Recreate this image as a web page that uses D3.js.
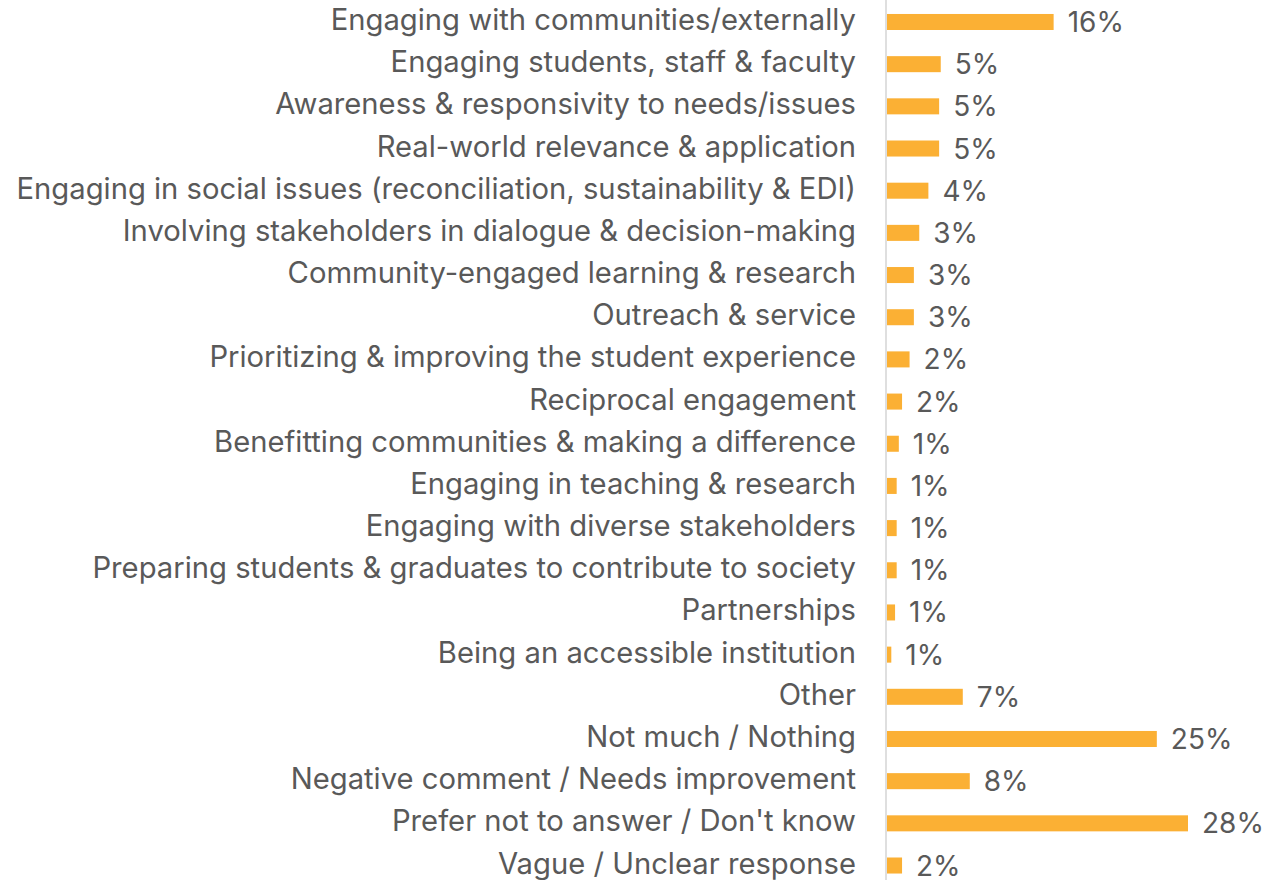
<!DOCTYPE html>
<html>
<head>
<meta charset="utf-8">
<script src="https://cdn.jsdelivr.net/npm/d3@7"></script>
<style>
  html, body { margin: 0; padding: 0; background: #ffffff; }
  svg { display: block; }
</style>
</head>
<body>
<svg id="chart" width="1268" height="880"></svg>
<script>
const categories = [
  "Engaging with communities/externally",
  "Engaging students, staff & faculty",
  "Awareness & responsivity to needs/issues",
  "Real-world relevance & application",
  "Engaging in social issues (reconciliation, sustainability & EDI)",
  "Involving stakeholders in dialogue & decision-making",
  "Community-engaged learning & research",
  "Outreach & service",
  "Prioritizing & improving the student experience",
  "Reciprocal engagement",
  "Benefitting communities & making a difference",
  "Engaging in teaching & research",
  "Engaging with diverse stakeholders",
  "Preparing students & graduates to contribute to society",
  "Partnerships",
  "Being an accessible institution",
  "Other",
  "Not much / Nothing",
  "Negative comment / Needs improvement",
  "Prefer not to answer / Don't know",
  "Vague / Unclear response"
];
const values = [15.5, 5.0, 4.85, 4.85, 3.85, 3.0, 2.5, 2.5, 2.1, 1.4, 1.1, 0.9, 0.9, 0.9, 0.75, 0.4, 7.05, 25.1, 7.7, 28.0, 1.4];
const valueLabels = ["16%", "5%", "5%", "5%", "4%", "3%", "3%", "3%", "2%", "2%", "1%", "1%", "1%", "1%", "1%", "1%", "7%", "25%", "8%", "28%", "2%"];

const data = categories.map((c, i) => ({ cat: c, value: values[i], label: valueLabels[i] }));

const svg = d3.select("#chart");
const textColor = "#595959";
const barColor = "#FBB034";
const fontFamily = "Inter, Lato, sans-serif";

const axisX = 886;
const x = d3.scaleLinear().domain([0, 28]).range([887, 1188]);
const y = d3.scaleBand()
  .domain(categories)
  .range([0.9, 886.6])
  .paddingInner(0.62)
  .paddingOuter(0.31);

function measure(str, size) {
  const t = svg.append("text")
    .attr("font-family", fontFamily)
    .attr("font-size", size)
    .text(str);
  const len = t.node().getComputedTextLength();
  t.remove();
  return len;
}

// fit label font size so the longest label spans the reference width
const w = measure(categories[4], 28);
let labelSize = 27;
if (w > 0) labelSize = Math.max(24, Math.min(30, 28 * 840 / w));
const valueSize = 28;

// bars
svg.append("g")
  .selectAll("rect")
  .data(data)
  .join("rect")
  .attr("x", x(0))
  .attr("y", d => y(d.cat))
  .attr("width", d => x(d.value) - x(0))
  .attr("height", y.bandwidth())
  .attr("fill", barColor);

// axis line
svg.append("line")
  .attr("x1", axisX).attr("x2", axisX)
  .attr("y1", 0).attr("y2", 880)
  .attr("stroke", "#d4d4d4")
  .attr("stroke-width", 1.5);

// category labels
svg.append("g")
  .selectAll("text")
  .data(data)
  .join("text")
  .attr("x", 856)
  .attr("y", d => y(d.cat) + y.bandwidth() / 2 + 8)
  .attr("text-anchor", "end")
  .attr("font-family", fontFamily)
  .attr("font-size", labelSize)
  .attr("fill", textColor)
  .text(d => d.cat);

// value labels
svg.append("g")
  .selectAll("text")
  .data(data)
  .join("text")
  .attr("x", d => x(d.value) + 14)
  .attr("y", d => y(d.cat) + y.bandwidth() / 2 + 10)
  .attr("text-anchor", "start")
  .attr("font-family", fontFamily)
  .attr("font-size", valueSize)
  .attr("fill", textColor)
  .text(d => d.label);
</script>
</body>
</html>
